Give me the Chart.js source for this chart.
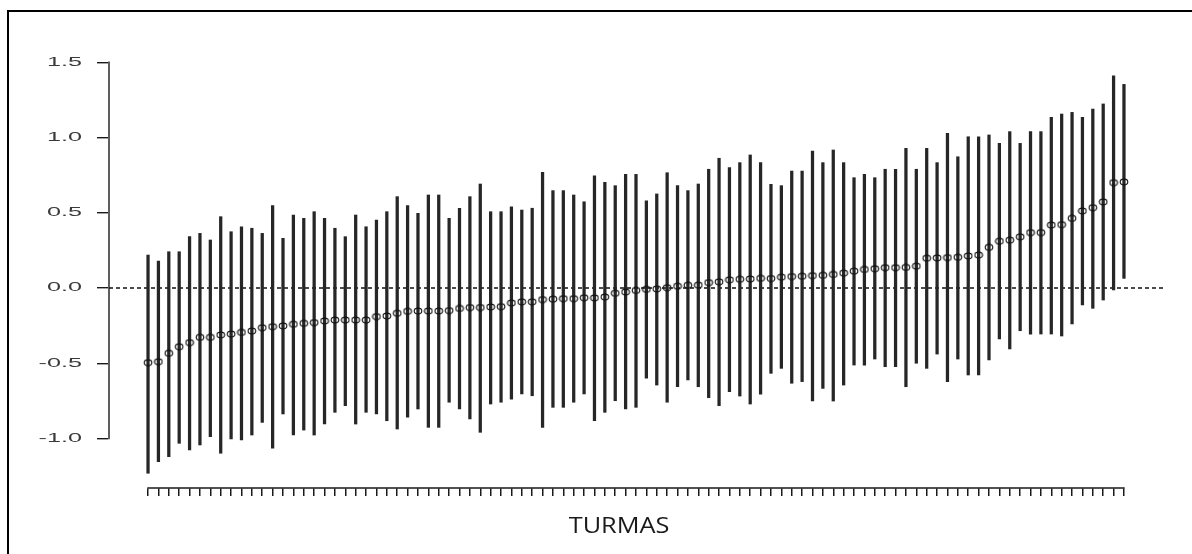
<!DOCTYPE html>
<html>
<head>
<meta charset="utf-8">
<script src="https://cdn.jsdelivr.net/npm/chart.js@4.4.1/dist/chart.umd.min.js"></script>
<style>
html,body{margin:0;padding:0;background:#fff;}
#wrap{position:relative;width:1192px;height:554px;overflow:hidden;background:#fff;}
#frame{position:absolute;left:7px;top:10px;right:-4px;bottom:-4px;border-left:2px solid #000;border-top:2px solid #000;pointer-events:none;}
canvas{display:block;}
</style>
</head>
<body>
<div id="wrap"><canvas id="c" width="1192" height="554"></canvas><div id="frame"></div></div>
<script>
// ---- data ----
const TURMAS = [1,2,3,4,5,6,7,8,9,10,11,12,13,14,15,16,17,18,19,20,
  21,22,23,24,25,26,27,28,29,30,31,32,33,34,35,36,37,38,39,40,
  41,42,43,44,45,46,47,48,49,50,51,52,53,54,55,56,57,58,59,60,
  61,62,63,64,65,66,67,68,69,70,71,72,73,74,75,76,77,78,79,80,
  81,82,83,84,85,86,87,88,89,90,91,92,93,94,95];

const ESTIMATES = [-0.496,-0.490,-0.434,-0.390,-0.363,-0.328,-0.328,-0.312,-0.306,-0.295,
  -0.286,-0.264,-0.257,-0.252,-0.241,-0.235,-0.230,-0.219,-0.213,-0.213,
  -0.213,-0.213,-0.190,-0.186,-0.168,-0.155,-0.153,-0.153,-0.153,-0.150,
  -0.136,-0.130,-0.130,-0.126,-0.124,-0.100,-0.092,-0.092,-0.077,-0.074,
  -0.071,-0.071,-0.065,-0.066,-0.060,-0.035,-0.027,-0.016,-0.009,-0.006,
  0.002,0.012,0.018,0.019,0.036,0.041,0.054,0.058,0.060,0.064,
  0.063,0.072,0.076,0.078,0.082,0.084,0.090,0.099,0.112,0.123,
  0.128,0.135,0.135,0.137,0.145,0.198,0.200,0.202,0.204,0.213,
  0.219,0.270,0.311,0.318,0.340,0.368,0.368,0.418,0.421,0.463,
  0.512,0.534,0.572,0.700,0.705];

const LOWER = [-1.231,-1.154,-1.121,-1.032,-1.076,-1.043,-0.988,-1.098,-1.003,-1.010,
  -0.977,-0.893,-1.065,-0.837,-0.977,-0.944,-0.977,-0.904,-0.826,-0.782,
  -0.904,-0.826,-0.837,-0.882,-0.937,-0.859,-0.804,-0.926,-0.926,-0.759,
  -0.804,-0.870,-0.959,-0.771,-0.759,-0.738,-0.704,-0.716,-0.926,-0.793,
  -0.793,-0.759,-0.704,-0.882,-0.826,-0.749,-0.804,-0.793,-0.600,-0.645,
  -0.759,-0.656,-0.611,-0.656,-0.729,-0.782,-0.689,-0.718,-0.771,-0.706,
  -0.567,-0.534,-0.633,-0.622,-0.751,-0.667,-0.751,-0.645,-0.512,-0.512,
  -0.472,-0.523,-0.523,-0.656,-0.500,-0.534,-0.439,-0.622,-0.472,-0.578,
  -0.578,-0.478,-0.339,-0.405,-0.284,-0.306,-0.306,-0.306,-0.319,-0.239,
  -0.113,-0.135,-0.080,-0.013,0.064];

const UPPER = [0.219,0.179,0.241,0.241,0.341,0.363,0.319,0.474,0.374,0.407,
  0.397,0.363,0.547,0.330,0.485,0.463,0.507,0.463,0.397,0.341,
  0.485,0.407,0.452,0.507,0.607,0.547,0.496,0.618,0.618,0.463,
  0.530,0.607,0.691,0.507,0.507,0.540,0.518,0.530,0.769,0.647,
  0.647,0.618,0.573,0.746,0.702,0.680,0.755,0.755,0.580,0.625,
  0.766,0.680,0.647,0.691,0.789,0.862,0.800,0.833,0.884,0.833,
  0.689,0.680,0.777,0.777,0.910,0.833,0.917,0.833,0.733,0.755,
  0.733,0.789,0.789,0.928,0.789,0.928,0.833,1.028,0.872,1.005,
  1.005,1.017,0.961,1.039,0.961,1.039,1.039,1.134,1.156,1.167,
  1.134,1.189,1.223,1.409,1.353];

const Y_TICKS = [-1.0, -0.5, 0.0, 0.5, 1.0, 1.5];
const REFERENCE_VALUE = 0;
const X_TITLE = 'TURMAS';

// ---- scale ranges (R style: 4% beyond the first/last turma) ----
const X_PAD = 0.04 * (TURMAS[TURMAS.length - 1] - TURMAS[0]);
const X_MIN = TURMAS[0] - X_PAD;
const X_MAX = TURMAS[TURMAS.length - 1] + X_PAD;
const Y_MIN = -1.329;
const Y_MAX = 1.515;

// ---- render styling constants ----
const LABEL_STRETCH = 2.1;   // the reference's tick labels are horizontally stretched
const TITLE_STRETCH = 1.15;
const TITLE_SHIFT = -17;

// open elliptical marker (reference markers are slightly wider than tall)
function makeMarker() {
  const c = document.createElement('canvas');
  c.width = 10; c.height = 8;
  const g = c.getContext('2d');
  g.strokeStyle = '#111';
  g.lineWidth = 1.1;
  g.beginPath();
  g.ellipse(5, 4, 3.8, 2.9, 0, 0, Math.PI * 2);
  g.stroke();
  return c;
}
const MARKER = makeMarker();

// R-like axis: axis line only from first to last tick, stretched labels
class RAxisScale extends Chart.LinearScale {
  drawBorder() {
    const ctx = this.ctx;
    const border = this.options.border;
    if (!border.display || !this.ticks.length) return;
    const a = this.getPixelForValue(this.ticks[0].value);
    const b = this.getPixelForValue(this.ticks[this.ticks.length - 1].value);
    ctx.save();
    ctx.lineWidth = border.width;
    ctx.strokeStyle = border.color;
    ctx.lineCap = 'square';
    ctx.beginPath();
    if (this.isHorizontal()) {
      const y = this.options.position === 'bottom' ? this.top : this.bottom;
      ctx.moveTo(a, y); ctx.lineTo(b, y);
    } else {
      const x = this.options.position === 'left' ? this.right : this.left;
      ctx.moveTo(x, a); ctx.lineTo(x, b);
    }
    ctx.stroke();
    ctx.restore();
  }
  drawLabels(chartArea) {
    if (this.isHorizontal()) { super.drawLabels(chartArea); return; }
    const ctx = this.ctx;
    const anchor = this.right - this.options.grid.tickLength - this.options.ticks.padding;
    ctx.save();
    ctx.translate(anchor, 0);
    ctx.scale(LABEL_STRETCH, 1);
    ctx.translate(-anchor, 0);
    super.drawLabels(chartArea);
    ctx.restore();
  }
  drawTitle() {
    if (!this.isHorizontal()) { super.drawTitle(); return; }
    const ctx = this.ctx;
    const cx = (this.left + this.right) / 2;
    ctx.save();
    ctx.translate(cx + TITLE_SHIFT, 0);
    ctx.scale(TITLE_STRETCH, 1);
    ctx.translate(-cx, 0);
    super.drawTitle();
    ctx.restore();
  }
}
RAxisScale.id = 'raxis';
RAxisScale.defaults = Chart.LinearScale.defaults;
Chart.register(RAxisScale);

const refLinePlugin = {
  id: 'refLine',
  beforeDatasetsDraw(chart) {
    const {ctx, chartArea, scales} = chart;
    const py = scales.y.getPixelForValue(REFERENCE_VALUE);
    ctx.save();
    ctx.setLineDash([4, 3]);
    ctx.lineWidth = 1.3;
    ctx.strokeStyle = '#111';
    ctx.beginPath();
    ctx.moveTo(chartArea.left, py);
    ctx.lineTo(chartArea.right, py);
    ctx.stroke();
    ctx.restore();
  }
};

const estimatePoints = TURMAS.map((t, i) => ({x: t, y: ESTIMATES[i]}));
const intervalBars = TURMAS.map((t, i) => ({x: t, y: [LOWER[i], UPPER[i]]}));

new Chart(document.getElementById('c'), {
  type: 'bar',
  data: {
    datasets: [
      {
        type: 'line',
        label: 'Estimativa',
        data: estimatePoints,
        showLine: false,
        pointStyle: MARKER,
        pointRadius: 4,
        order: 0
      },
      {
        type: 'bar',
        label: 'Intervalo',
        data: intervalBars,
        backgroundColor: '#262626',
        borderWidth: 0,
        barThickness: 2.6,
        order: 1
      }
    ]
  },
  options: {
    responsive: false,
    animation: false,
    events: [],
    layout: {padding: {top: 60, right: 29, bottom: 0, left: 0}},
    plugins: {legend: {display: false}, tooltip: {enabled: false}, title: {display: false}},
    scales: {
      x: {
        type: 'raxis',
        position: 'bottom',
        min: X_MIN,
        max: X_MAX,
        offset: false,
        afterBuildTicks: (s) => { s.ticks = TURMAS.map(v => ({value: v})); },
        afterFit: (s) => { s.height = 66; },
        ticks: {display: false, autoSkip: false},
        grid: {offset: false, drawOnChartArea: false, drawTicks: true, tickLength: 8, color: '#1a1a1a', lineWidth: 1.5},
        border: {display: true, color: '#1a1a1a', width: 1.5},
        title: {
          display: true,
          text: X_TITLE,
          color: '#1a1a1a',
          font: {family: "'Open Sans', 'Noto Sans', sans-serif", size: 22},
          padding: {top: 0, bottom: 14}
        }
      },
      y: {
        type: 'raxis',
        position: 'left',
        min: Y_MIN,
        max: Y_MAX,
        afterBuildTicks: (s) => { s.ticks = Y_TICKS.map(v => ({value: v})); },
        afterFit: (s) => { s.width = 109; },
        ticks: {
          color: '#3a3a3a',
          padding: 15,
          autoSkip: false,
          font: {family: "'Liberation Sans', Arial, sans-serif", size: 12},
          callback: (v) => Number(v).toFixed(1)
        },
        grid: {drawOnChartArea: false, drawTicks: true, tickLength: 12, color: '#1a1a1a', lineWidth: 1.4},
        border: {display: true, color: '#1a1a1a', width: 1.4}
      }
    }
  },
  plugins: [refLinePlugin]
});
</script>
</body>
</html>
